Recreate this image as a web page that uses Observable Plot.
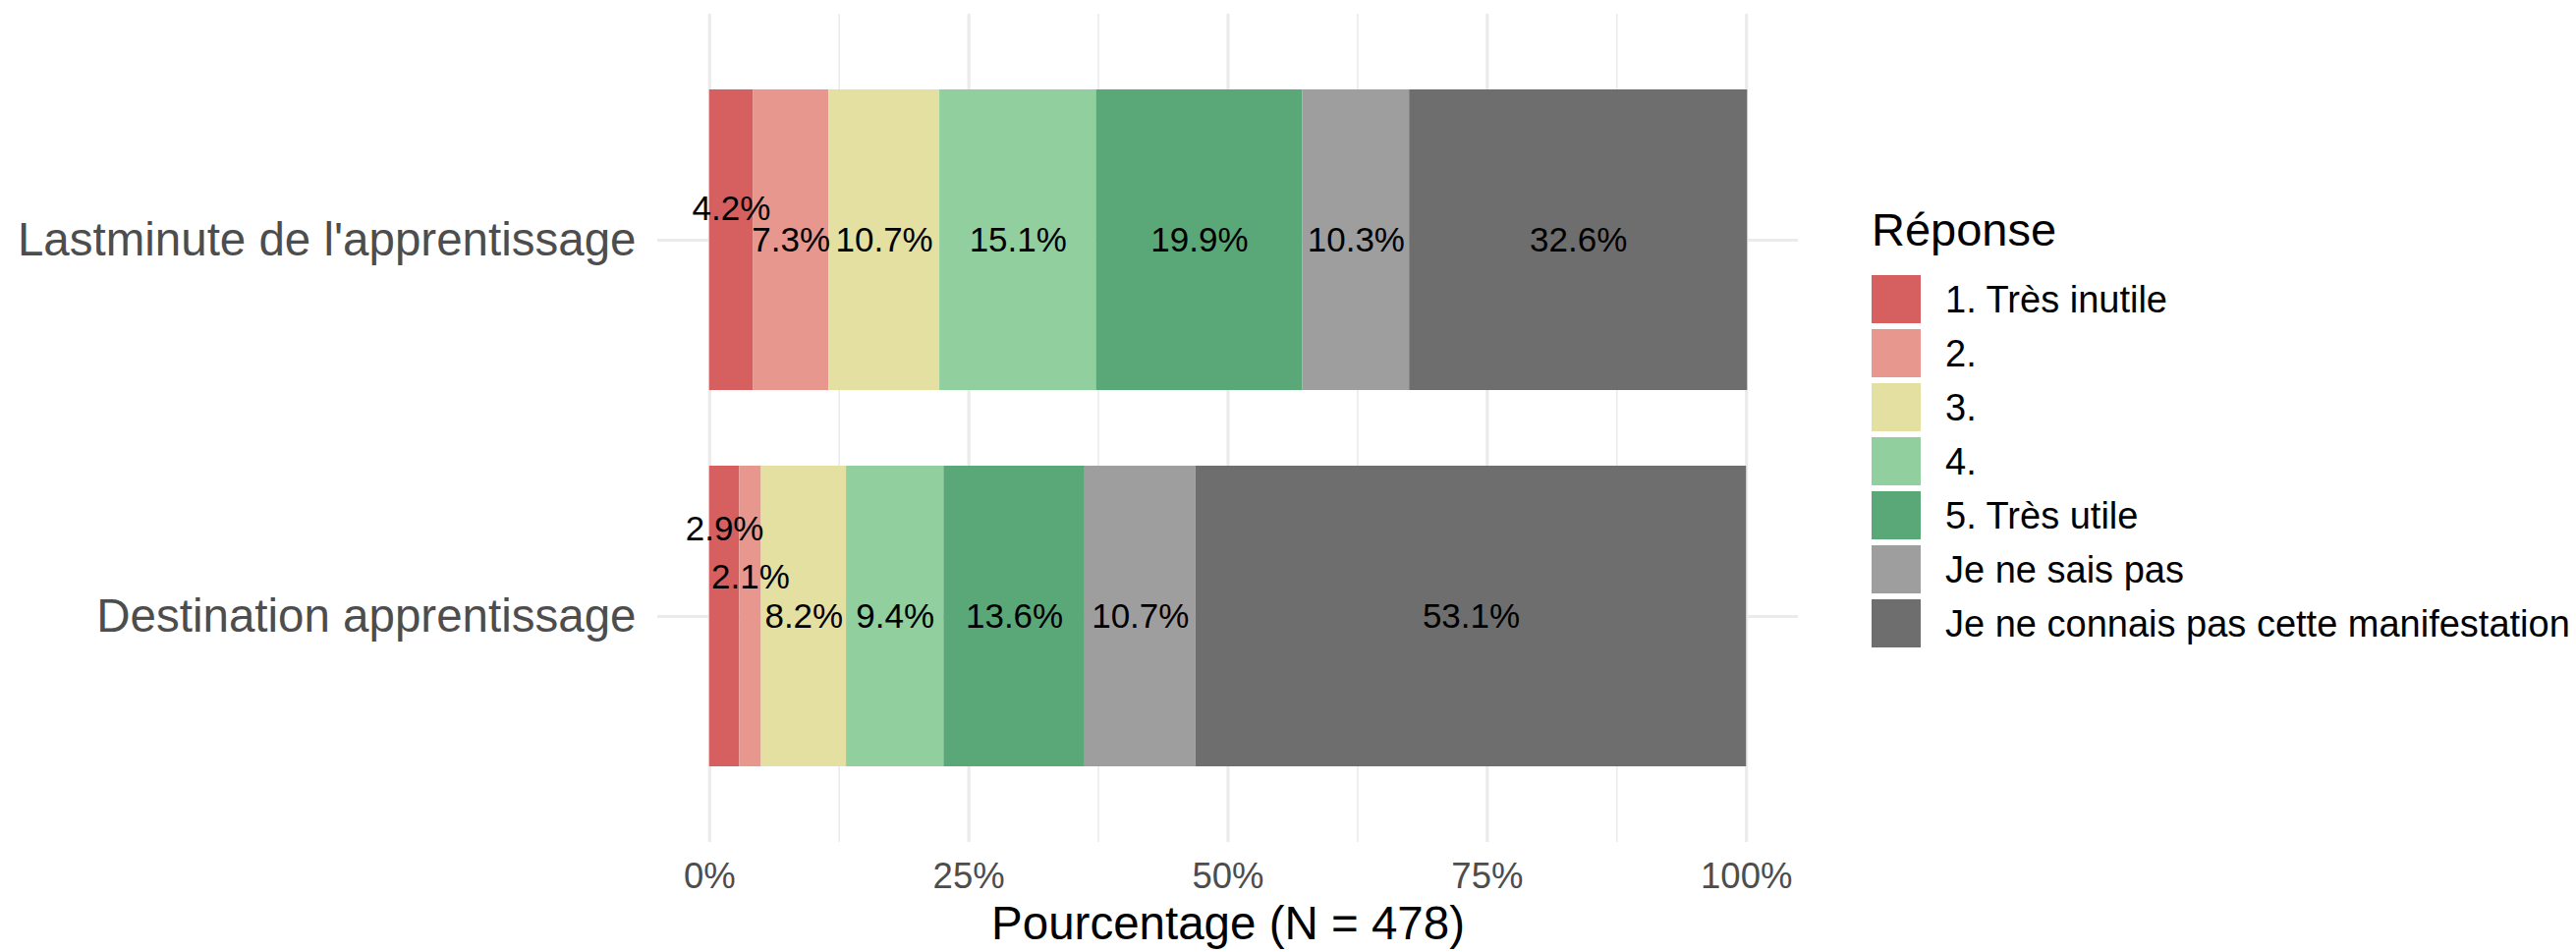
<!DOCTYPE html>
<html>
<head>
<meta charset="utf-8">
<script src="https://cdn.jsdelivr.net/npm/d3@7"></script>
<script src="https://cdn.jsdelivr.net/npm/@observablehq/plot@0.6"></script>
<style>
  body { margin: 0; background: #fff; font-family: "Liberation Sans", Arial, sans-serif; }
  #wrap { position: relative; width: 2622px; height: 969px; overflow: hidden; }
  #chart { position: absolute; left: 0; top: 0; }
  #legend { position: absolute; left: 1905px; top: 210px; color: #000; }
  #legend .title { font-size: 47px; line-height: 1; height: 47px; margin-bottom: 23px; }
  #legend .row { display: flex; align-items: center; height: 49px; margin-bottom: 6px; }
  #legend .sw { width: 50px; height: 49px; }
  #legend .lab { margin-left: 25px; font-size: 38px; line-height: 1; white-space: nowrap; }
</style>
</head>
<body>
<div id="wrap">
  <div id="chart"></div>
  <div id="legend"></div>
</div>
<script>
// ---- data ----
const categories = ["Lastminute de l'apprentissage", "Destination apprentissage"];
const responses = ["1. Très inutile", "2.", "3.", "4.", "5. Très utile", "Je ne sais pas", "Je ne connais pas cette manifestation"];
const lastminuteValues = [4.2, 7.3, 10.7, 15.1, 19.9, 10.3, 32.6];
const destinationValues = [2.9, 2.1, 8.2, 9.4, 13.6, 10.7, 53.1];
const responseColors = ["#D65F5F", "#E8978F", "#E4E0A1", "#91CF9E", "#5AA778", "#9E9E9E", "#6E6E6E"];
const xTicks = [0, 25, 50, 75, 100];
const xMinorTicks = [12.5, 37.5, 62.5, 87.5];
const legendTitle = "Réponse";
const xTitle = "Pourcentage (N = 478)";

// label lifts (repelled labels in thin segments), pixel offsets
const labelLifts = [
  {category: "Lastminute de l'apprentissage", response: "1. Très inutile", dy: -32},
  {category: "Destination apprentissage", response: "1. Très inutile", dy: -89},
  {category: "Destination apprentissage", response: "2.", dy: -40}
];

const seriesValues = [lastminuteValues, destinationValues];
const data = [];
categories.forEach((c, i) => responses.forEach((r, j) => {
  const v = seriesValues[i][j];
  data.push({category: c, response: r, value: v, label: v.toFixed(1) + "%"});
}));

const isLifted = d => labelLifts.some(l => l.category === d.category && l.response === d.response);

const gridColor = "#EBEBEB";
const font = "'Liberation Sans', Arial, sans-serif";

const marks = [
  Plot.ruleX(xMinorTicks, {stroke: gridColor, strokeWidth: 1.6}),
  Plot.ruleX(xTicks, {stroke: gridColor, strokeWidth: 3.2}),
  Plot.ruleY(categories, {stroke: gridColor, strokeWidth: 3.2}),
  Plot.barX(data, Plot.stackX({x: "value", y: "category", fill: "response", z: "response"})),
  Plot.text(data, Plot.stackX({
    x: "value", y: "category", z: "response",
    text: d => isLifted(d) ? null : d.label,
    fill: "#000", fontSize: 35
  })),
  ...labelLifts.map(l => Plot.text(data, Plot.stackX({
    x: "value", y: "category", z: "response",
    text: d => (d.category === l.category && d.response === l.response) ? d.label : null,
    fill: "#000", fontSize: 35, dy: l.dy
  }))),
  Plot.axisX({ticks: xTicks, tickFormat: d => d + "%", tickSize: 0, tickPadding: 21, fontSize: 36.5, label: null, color: "#4D4D4D"}),
  Plot.axisY({tickSize: 0, tickPadding: 22, fontSize: 47.5, label: null, color: "#4D4D4D"}),
  Plot.text([xTitle], {text: d => d, frameAnchor: "bottom", lineAnchor: "bottom", dy: 98, fontSize: 47.5, fill: "#000"})
];

const plot = Plot.plot({
  width: 2622,
  height: 969,
  marginLeft: 669,
  marginRight: 792,
  marginTop: 14,
  marginBottom: 112,
  style: {fontFamily: font, background: "#fff", color: "#4D4D4D", overflow: "visible"},
  x: {domain: [-5, 105], axis: null},
  y: {domain: categories, paddingInner: 0.2, paddingOuter: 0.2, axis: null},
  color: {type: "ordinal", domain: responses, range: responseColors},
  marks
});
document.getElementById("chart").appendChild(plot);

// legend (HTML, colours from the plot's own color scale)
const colorScale = plot.scale("color");
const legend = document.getElementById("legend");
const t = document.createElement("div");
t.className = "title";
t.textContent = legendTitle;
legend.appendChild(t);
colorScale.domain.forEach((r, i) => {
  const row = document.createElement("div");
  row.className = "row";
  const sw = document.createElement("div");
  sw.className = "sw";
  sw.style.background = colorScale.range[i];
  const lab = document.createElement("div");
  lab.className = "lab";
  lab.textContent = r;
  row.appendChild(sw);
  row.appendChild(lab);
  legend.appendChild(row);
});
</script>
</body>
</html>
